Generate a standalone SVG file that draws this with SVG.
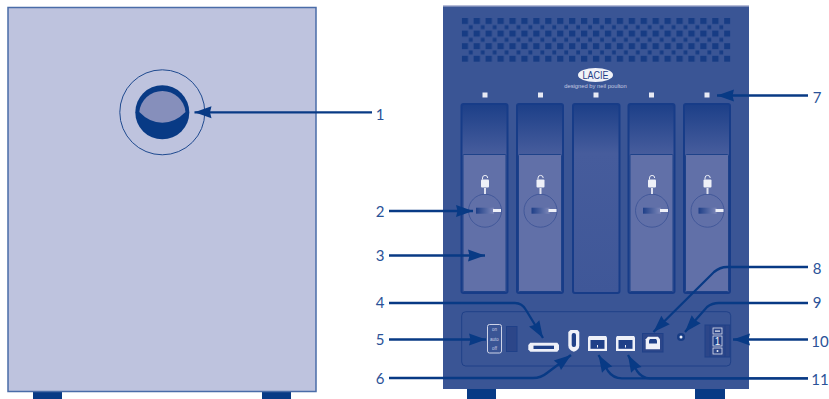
<svg xmlns="http://www.w3.org/2000/svg" width="829" height="399" viewBox="0 0 829 399">
<style>
.lbl{font-family:"Lato","Open Sans",sans-serif;font-size:15px;fill:#2a5298;text-anchor:middle}
.foot{fill:#083a85}
.ln{fill:none;stroke:#083a85;stroke-width:2.300}
.led{fill:#e8eaf4}
.bay{fill:url(#bayGrad);stroke:#173c88;stroke-width:2}
.handle{fill:#6170a8;stroke:#1e4289;stroke-width:1}
.wht{fill:#eef0f8}
.drk{fill:#1f4088}
.sw{font-family:"Liberation Sans",sans-serif;font-size:4.500px;fill:#c8cde4;text-anchor:middle}
</style>
<defs>
<marker id="ah" markerUnits="userSpaceOnUse" markerWidth="20" markerHeight="14" refX="18" refY="7" orient="auto">
<path d="M1 1L18 7L1 13L2.500 7Z" fill="#083a85"/>
</marker>
<linearGradient id="bayGrad" x1="0" y1="0" x2="0" y2="1">
<stop offset="0" stop-color="#1c3f88"/><stop offset=".26" stop-color="#465c9c"/><stop offset="1" stop-color="#3f5798"/>
</linearGradient>
<linearGradient id="barGrad" x1="0" y1="0" x2="1" y2="0">
<stop offset="0" stop-color="#1e3f88"/><stop offset="1" stop-color="#7d87b8"/>
</linearGradient>
<pattern id="vent" patternUnits="userSpaceOnUse" x="461.700" y="18" width="11.930" height="12.600">
<rect width="6.300" height="6" fill="#173c84"/>
<rect x="7.200" y="7.200" width="3.800" height="4" fill="#173c84"/>
</pattern>
<g id="bayShape">
<rect x="0" y="0" width="46" height="189" rx="2" class="bay"/>
<rect x="1.500" y="50.500" width="43" height="137" rx="1" class="handle"/>
<circle cx="23.500" cy="106.700" r="16.500" fill="none" stroke="#3a5296" stroke-width=".8"/>
<rect x="14.500" y="103.700" width="18" height="6" fill="url(#barGrad)"/>
<rect x="31.500" y="105" width="8" height="3" class="wht"/>
<rect x="22.500" y="84" width="2" height="6" fill="#dfe2f0"/>
<rect x="19.500" y="75.500" width="8" height="8" rx="1" class="wht"/>
<path d="M21 75.500v-1.500a2.600 2.600 0 0 1 5.200 0" fill="none" stroke="#eef0f8" stroke-width="1"/>
</g>
</defs>

<g id="enclosure-side">
<rect class="foot" x="33" y="392" width="29" height="7"/>
<rect class="foot" x="262" y="392" width="29" height="7"/>
<rect x="8" y="7.500" width="308" height="384" fill="#bec3de" stroke="#4a6ca8" stroke-width="1.500"/>
</g>
<g id="power-button">
<circle cx="162.300" cy="112.300" r="42.500" fill="none" stroke="#1f4a8f" stroke-width="1"/>
<circle cx="162.300" cy="112.300" r="27" fill="#083a85"/>
<path d="M139.300 112A23.200 23.200 0 0 1 185.500 112Q175 122.700 162.300 122.700Q149.500 122.700 139.300 112Z" fill="#868fbb"/>
</g>

<g id="enclosure-front">
<rect class="foot" x="467" y="389" width="29" height="10"/>
<rect class="foot" x="695" y="389" width="30" height="10"/>
<rect x="443" y="5" width="306" height="384" fill="#3a5595"/>
<rect x="443" y="5" width="306" height="1.500" fill="#b7bdd8"/>
<rect x="461.700" y="18" width="268.700" height="44" fill="url(#vent)"/>
</g>
<g id="logo">
<ellipse cx="595.500" cy="75" rx="17.500" ry="7" fill="#f1f2f8"/>
<text x="595.500" y="79" font-family="Liberation Sans,sans-serif" font-size="10.500" fill="#1f4088" text-anchor="middle" textLength="26" lengthAdjust="spacingAndGlyphs">LACIE</text>
<text x="595.500" y="88" font-family="Liberation Sans,sans-serif" font-size="5.800" fill="#c5cbe2" text-anchor="middle">designed by neil poulton</text>
</g>
<g id="leds">
<rect class="led" x="482.500" y="92.500" width="5" height="5"/>
<rect class="led" x="538" y="92.500" width="5" height="5"/>
<rect class="led" x="593.500" y="92.500" width="5" height="5"/>
<rect class="led" x="649" y="92.500" width="5" height="5"/>
<rect class="led" x="704.500" y="92.500" width="5" height="5"/>
</g>
<g id="drive-bays">
<use href="#bayShape" x="461.500" y="104"/>
<use href="#bayShape" x="517" y="104"/>
<rect x="573" y="104" width="46.500" height="189" rx="2" class="bay"/>
<use href="#bayShape" x="628.500" y="104"/>
<use href="#bayShape" x="684" y="104"/>
</g>
<g id="port-panel">
<rect x="461.700" y="311.700" width="269" height="54.300" rx="4" fill="none" stroke="#1f4088" stroke-width="1"/>
<rect x="487.500" y="324.500" width="14" height="28.500" rx="2" fill="none" stroke="#dfe2f0" stroke-width=".9"/>
<text class="sw" x="494.500" y="330.500">on</text>
<text class="sw" x="494.500" y="340.500">auto</text>
<text class="sw" x="494.500" y="350">off</text>
<rect x="506.500" y="326.500" width="10.500" height="25" fill="#2c4689" stroke="#1f4088"/>
</g>
<g id="port-sata">
<path d="M528.300 345l2-2.300h27l1.700 2.300v4.500l-1.700 2.200h-27l-2-2.200Z" class="wht"/>
<rect x="533.500" y="345.700" width="20.500" height="3.300" fill="#1f4088"/>
</g>
<g id="port-firewire400">
<path d="M570.500 330h7l1.800 2v13.500q0 4.500-5.500 6.200q-5.500-1.700-5.500-6.200v-13.500Z" class="wht"/>
<rect x="571.700" y="333" width="4.300" height="14" rx="2" class="drk"/>
</g>
<g id="port-firewire800-1">
<path d="M588 337.500l1-1.500h17l1 1.500v13.500h-19Z" class="wht"/>
<rect x="590.500" y="340" width="14" height="8.800" class="drk"/>
<rect x="597" y="345" width="1" height="2.500" class="wht"/>
</g>
<g id="port-firewire800-2">
<path d="M616 337.500l1-1.500h17l1 1.500v13.500h-19Z" class="wht"/>
<rect x="618.500" y="340" width="14" height="8.800" class="drk"/>
<rect x="625" y="345" width="1" height="2.500" class="wht"/>
</g>
<g id="port-usb">
<rect x="642.500" y="333.500" width="20.500" height="18.500" fill="#2c4689" stroke="#1f4088"/>
<path d="M648 336.700h10l2 2.500v10.100h-14.300v-10.100Z" class="wht"/>
<path d="M650 339h6l1 1.500v3h-8v-3Z" class="drk"/>
</g>
<g id="reset">
<circle cx="681" cy="337" r="4" fill="#173c84"/>
<circle cx="681" cy="337" r="1.500" class="wht"/>
</g>
<g id="power-switch">
<rect x="705" y="325" width="25" height="32" fill="#2c4689" stroke="#1f4088"/>
<path d="M710 325v32M725 325v32" stroke="#1f4088" stroke-width=".8"/>
<rect x="713" y="328" width="9" height="6" fill="#2c4689" stroke="#dfe2f0" stroke-width=".8"/>
<rect x="715" y="330.500" width="5" height="1.200" class="wht"/>
<rect x="713" y="336" width="9" height="10" fill="#1f4088" stroke="#dfe2f0" stroke-width=".8"/>
<text x="717.500" y="345" font-family="Liberation Sans,sans-serif" font-size="10" fill="#eef0f8" text-anchor="middle">1</text>
<rect x="713" y="348" width="9" height="6" fill="#2c4689" stroke="#dfe2f0" stroke-width=".8"/>
<circle cx="717.500" cy="351" r="1" class="wht"/>
</g>

<g id="connectors">
<path class="ln" marker-end="url(#ah)" d="M372 112.300H194.500"/>
<path class="ln" marker-end="url(#ah)" d="M389 211H473"/>
<path class="ln" marker-end="url(#ah)" d="M389 255.500H485"/>
<path class="ln" marker-end="url(#ah)" d="M389 303H515Q522 303 526 310L543 338"/>
<path class="ln" marker-end="url(#ah)" d="M389 339.500H486"/>
<path class="ln" marker-end="url(#ah)" d="M389 378H533Q541 378 547 373L571 355"/>
<path class="ln" marker-end="url(#ah)" d="M808 95.500H717"/>
<path class="ln" marker-end="url(#ah)" d="M808 267H727Q720 267 714 272L653.500 332"/>
<path class="ln" marker-end="url(#ah)" d="M808 303H719Q712 303 707 307L685 332"/>
<path class="ln" marker-end="url(#ah)" d="M808 339.500H733"/>
<path class="ln" marker-end="url(#ah)" d="M808 378.300H622Q613 378.300 608 371L598.500 355"/>
<path class="ln" marker-end="url(#ah)" d="M808 378.300H650Q642 378.300 637 371L628 355"/>
</g>

<g id="labels">
<text class="lbl" x="380" y="119.500">1</text>
<text class="lbl" x="380" y="216.500">2</text>
<text class="lbl" x="380" y="260.500">3</text>
<text class="lbl" x="380" y="308">4</text>
<text class="lbl" x="380" y="344.500">5</text>
<text class="lbl" x="380" y="383.500">6</text>
<text class="lbl" x="817" y="103">7</text>
<text class="lbl" x="817" y="274">8</text>
<text class="lbl" x="817" y="308">9</text>
<text class="lbl" x="820" y="347">10</text>
<text class="lbl" x="820" y="384.500">11</text>
</g>
</svg>
